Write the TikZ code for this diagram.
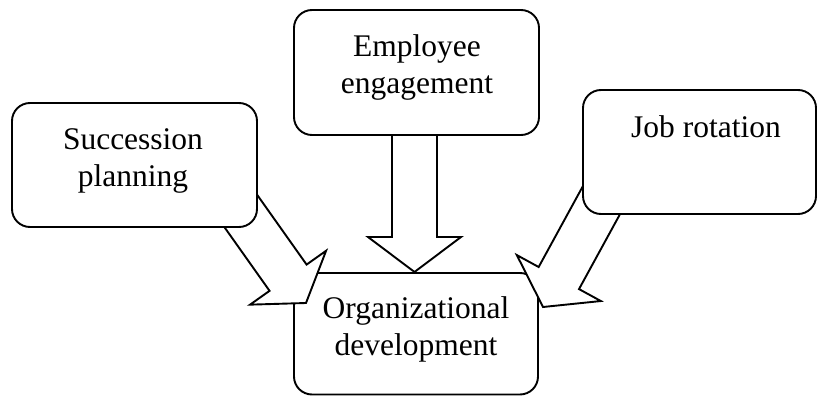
\documentclass[tikz,border=0pt]{standalone}
\usepackage{fontspec}
\setmainfont{Liberation Serif}
\usetikzlibrary{calc}
\tikzset{
  box/.style={draw=black, line width=1.9pt, fill=white, rounded corners=18pt, inner sep=0pt, outer sep=0pt},
  arrowbody/.style={draw=black, line width=1.9pt, fill=white, line join=miter},
  label/.style={anchor=base, inner sep=0pt, font=\fontsize{31.5}{37}\selectfont}
}
\newcommand\blockarrow[5]{%
  \coordinate (#1-h) at ($(#2)!#5!(#1)$);
  \draw[arrowbody] ($(#1)!#3!90:(#2)$) -- ($(#1-h)!#3!90:(#2)$) -- ($(#1-h)!#4!90:(#2)$) -- (#2)
    -- ($(#1-h)!#4!-90:(#2)$) -- ($(#1-h)!#3!-90:(#2)$) -- ($(#1)!#3!-90:(#2)$) -- cycle;
}
\begin{document}
\begin{tikzpicture}[x=1pt, y=-1pt]
\useasboundingbox (0,0) rectangle (817,396);
% target box
\node[box, minimum width=244pt, minimum height=121.5pt] (org) at (416,333.75) {};
% arrow anchors
\coordinate (sS) at (233,200);
\coordinate (sT) at (306,303);
\coordinate (eS) at (414.5,120);
\coordinate (eT) at (414.5,272);
\coordinate (jS) at (607,190);
\coordinate (jT) at (543,307);
\blockarrow{sS}{sT}{22.7pt}{46.6pt}{31pt}
\blockarrow{eS}{eT}{22.5pt}{46.5pt}{35pt}
\blockarrow{jS}{jT}{23pt}{47.9pt}{33pt}
% source boxes
\node[box, minimum width=245pt, minimum height=124pt] (succ) at (134.5,165) {};
\node[box, minimum width=245pt, minimum height=125pt] (emp) at (416.5,72.5) {};
\node[box, minimum width=233pt, minimum height=124pt] (job) at (699.5,152) {};
% texts
\node[label] (succ1) at (133,149) {Succession};
\node[label] (succ2) at (133,186) {planning};
\node[label] (emp1) at (417,57) {Employee};
\node[label] (emp2) at (417,94) {engagement};
\node[label] (job1) at (706,137) {Job rotation};
\node[label] (org1) at (416,318) {Organizational};
\node[label] (org2) at (416,355) {development};
\end{tikzpicture}
\end{document}
